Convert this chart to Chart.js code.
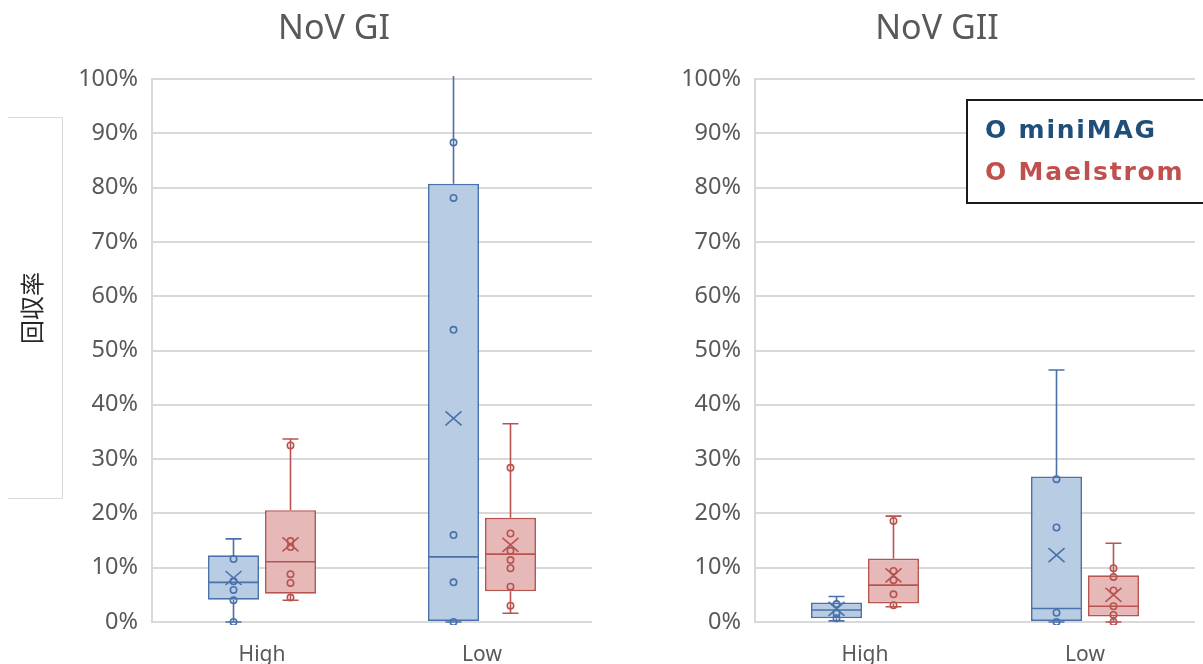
<!DOCTYPE html>
<html>
<head>
<meta charset="utf-8">
<script src="https://cdn.jsdelivr.net/npm/chart.js@4.4.1/dist/chart.umd.min.js"></script>
<style>
  html, body { margin: 0; padding: 0; background: #fff; overflow: hidden; }
  #wrap { position: relative; width: 1203px; height: 664px; }
  .pane { position: absolute; top: 0; width: 600px; height: 664px; }
  #paneGI { left: 0; }
  #paneGII { left: 603px; }
</style>
</head>
<body>
<div id="wrap">
  <div class="pane" id="paneGI"><canvas id="chartGI"></canvas></div>
  <div class="pane" id="paneGII"><canvas id="chartGII"></canvas></div>
</div>
<script>
/* Recovery rate box plots, NoV GI / NoV GII
   box rows: [whisker low, Q1, median, Q3, whisker high] in % */

const categories = ['High', 'Low'];
const seriesNames = ['miniMAG', 'Maelstrom'];

const giMiniBox  = [[0, 4.1, 7.3, 12.3, 15.3], [0, 0, 12.0, 80.7, 104]];
const giMiniMean = [8.1, 37.5];
const giMiniPts  = [[11.6, 7.5, 5.9, 4.0, 0], [88.3, 78.1, 53.8, 16.0, 7.3, 0]];

const giMaelBox  = [[4.0, 5.2, 11.1, 20.6, 33.7], [1.6, 5.65, 12.5, 19.2, 36.5]];
const giMaelMean = [14.3, 14.2];
const giMaelPts  = [[32.5, 14.9, 13.8, 8.8, 7.2, 4.5], [28.4, 16.3, 13.1, 11.4, 9.9, 6.5, 3.0]];

const giiMiniBox  = [[0.2, 0.7, 2.2, 3.6, 4.7], [0, 0, 2.5, 26.8, 46.4]];
const giiMiniMean = [2.4, 12.3];
const giiMiniPts  = [[3.3, 1.6, 0.7], [26.3, 17.4, 1.7, 0]];

const giiMaelBox  = [[2.8, 3.4, 6.8, 11.7, 19.5], [0, 1.0, 2.9, 8.6, 14.5]];
const giiMaelMean = [8.6, 5.0];
const giiMaelPts  = [[18.6, 9.4, 7.7, 5.1, 3.1], [9.9, 8.3, 5.8, 2.9, 1.3, 0]];

const BLUE_LINE = '#4A72AA';
const BLUE_FILL = '#B8CCE4';
const RED_LINE  = '#B85450';
const RED_FILL  = '#E6B8B8';
const GRAY_TEXT = '#595959';
const GRID      = '#D9D9D9';

// whiskers, median, mean cross and inner points on top of the floating bars
const boxExtrasPlugin = {
    id: 'boxExtras',
    afterDatasetsDraw(chart) {
        const { ctx, chartArea: area, scales: { y } } = chart;
        ctx.save();
        ctx.beginPath();
        ctx.rect(area.left, area.top - 3, area.right - area.left, area.bottom - area.top + 6);
        ctx.clip();

        chart.data.datasets.forEach((ds, d) => {
            const meta = chart.getDatasetMeta(d);
            ctx.strokeStyle = ds.borderColor;
            ctx.lineWidth = 1.6;

            meta.data.forEach((bar, i) => {
                const [wLo, q1, med, q3, wHi] = ds.stats[i];
                const x = bar.x;
                const half = bar.width / 2;
                const cap = 8;

                ctx.beginPath();
                // upper whisker + cap
                ctx.moveTo(x, y.getPixelForValue(q3));
                ctx.lineTo(x, y.getPixelForValue(wHi));
                ctx.moveTo(x - cap, y.getPixelForValue(wHi));
                ctx.lineTo(x + cap, y.getPixelForValue(wHi));
                // lower whisker + cap
                ctx.moveTo(x, y.getPixelForValue(q1));
                ctx.lineTo(x, y.getPixelForValue(wLo));
                ctx.moveTo(x - cap, y.getPixelForValue(wLo));
                ctx.lineTo(x + cap, y.getPixelForValue(wLo));
                // median
                ctx.moveTo(x - half, y.getPixelForValue(med));
                ctx.lineTo(x + half, y.getPixelForValue(med));
                ctx.stroke();

                // mean cross
                const ym = y.getPixelForValue(ds.means[i]);
                ctx.beginPath();
                ctx.moveTo(x - 8, ym - 7);
                ctx.lineTo(x + 8, ym + 7);
                ctx.moveTo(x - 8, ym + 7);
                ctx.lineTo(x + 8, ym - 7);
                ctx.stroke();

                // inner points
                ds.points[i].forEach(v => {
                    ctx.beginPath();
                    ctx.arc(x, y.getPixelForValue(v), 3.2, 0, Math.PI * 2);
                    ctx.stroke();
                });
            });
        });
        ctx.restore();
    }
};

const panelTitlePlugin = {
    id: 'panelTitle',
    afterDraw(chart, args, opts) {
        const { ctx } = chart;
        ctx.save();
        ctx.font = '34px "Noto Sans"';
        ctx.fillStyle = GRAY_TEXT;
        ctx.textAlign = 'center';
        ctx.textBaseline = 'middle';
        ctx.fillText(opts.text, 334, 29);
        ctx.restore();
    }
};

const yLabelPlugin = {
    id: 'yLabel',
    afterDraw(chart, args, opts) {
        if (!opts.text) return;
        const { ctx } = chart;
        ctx.save();
        ctx.strokeStyle = GRID;
        ctx.lineWidth = 1;
        ctx.beginPath();
        ctx.moveTo(8, 117.5);
        ctx.lineTo(62.5, 117.5);
        ctx.lineTo(62.5, 498.5);
        ctx.lineTo(8, 498.5);
        ctx.stroke();
        ctx.translate(32, 308);
        ctx.rotate(-Math.PI / 2);
        ctx.font = '24px "Noto Sans CJK JP"';
        ctx.fillStyle = '#262626';
        ctx.textAlign = 'center';
        ctx.textBaseline = 'middle';
        ctx.fillText(opts.text, 0, 0);
        ctx.restore();
    }
};

const boxLegendPlugin = {
    id: 'boxLegend',
    afterDraw(chart, args, opts) {
        if (!opts.show) return;
        const { ctx } = chart;
        ctx.save();
        ctx.strokeStyle = '#1a1a1a';
        ctx.lineWidth = 2;
        ctx.strokeRect(364, 100, 260, 103);
        ctx.fillStyle = '#fff';
        ctx.fillRect(365, 101, 258, 101);
        ctx.font = 'bold 25px "DejaVu Sans"';
        ctx.letterSpacing = '1.8px';
        ctx.textAlign = 'left';
        ctx.textBaseline = 'middle';
        ctx.fillStyle = '#1F4E79';
        ctx.fillText('O ' + seriesNames[0], 382, 131);
        ctx.fillStyle = '#C0504D';
        ctx.fillText('O ' + seriesNames[1], 382, 173);
        ctx.restore();
    }
};

function boxDataset(label, box, means, pts, line, fill) {
    return {
        label: label,
        data: box.map(s => [s[1], s[3]]),
        stats: box,
        means: means,
        points: pts,
        backgroundColor: fill,
        borderColor: line,
        borderWidth: 1.7,
        borderSkipped: false,
        categoryPercentage: 0.518,
        barPercentage: 0.895
    };
}

function createBoxChart(canvasId, title, datasets, showYLabel, showLegend) {
    const ctx = document.getElementById(canvasId).getContext('2d');
    return new Chart(ctx, {
        type: 'bar',
        data: { labels: categories, datasets: datasets },
        options: {
            responsive: true,
            maintainAspectRatio: false,
            animation: false,
            layout: { padding: { top: 79, right: 8, bottom: 0, left: 0 } },
            plugins: {
                legend: { display: false },
                tooltip: { enabled: false },
                panelTitle: { text: title },
                yLabel: { text: showYLabel ? '回収率' : '' },
                boxLegend: { show: showLegend }
            },
            scales: {
                x: {
                    grid: { display: false },
                    border: { display: false },
                    ticks: {
                        color: GRAY_TEXT,
                        font: { family: 'Noto Sans', size: 21 },
                        padding: 12
                    },
                    afterFit(scale) { scale.height = 42; }
                },
                y: {
                    min: 0,
                    max: 100,
                    ticks: {
                        stepSize: 10,
                        color: GRAY_TEXT,
                        font: { family: 'Noto Sans', size: 23.5 },
                        padding: 14,
                        callback: v => v + '%'
                    },
                    grid: { color: GRID, lineWidth: 2, drawTicks: false },
                    border: { display: true, color: GRID, width: 2 },
                    afterFit(scale) { scale.width = 152; }
                }
            }
        },
        plugins: [boxExtrasPlugin, panelTitlePlugin, yLabelPlugin, boxLegendPlugin]
    });
}

createBoxChart('chartGI', 'NoV GI', [
    boxDataset(seriesNames[0], giMiniBox, giMiniMean, giMiniPts, BLUE_LINE, BLUE_FILL),
    boxDataset(seriesNames[1], giMaelBox, giMaelMean, giMaelPts, RED_LINE, RED_FILL)
], true, false);

createBoxChart('chartGII', 'NoV GII', [
    boxDataset(seriesNames[0], giiMiniBox, giiMiniMean, giiMiniPts, BLUE_LINE, BLUE_FILL),
    boxDataset(seriesNames[1], giiMaelBox, giiMaelMean, giiMaelPts, RED_LINE, RED_FILL)
], false, true);
</script>
</body>
</html>
